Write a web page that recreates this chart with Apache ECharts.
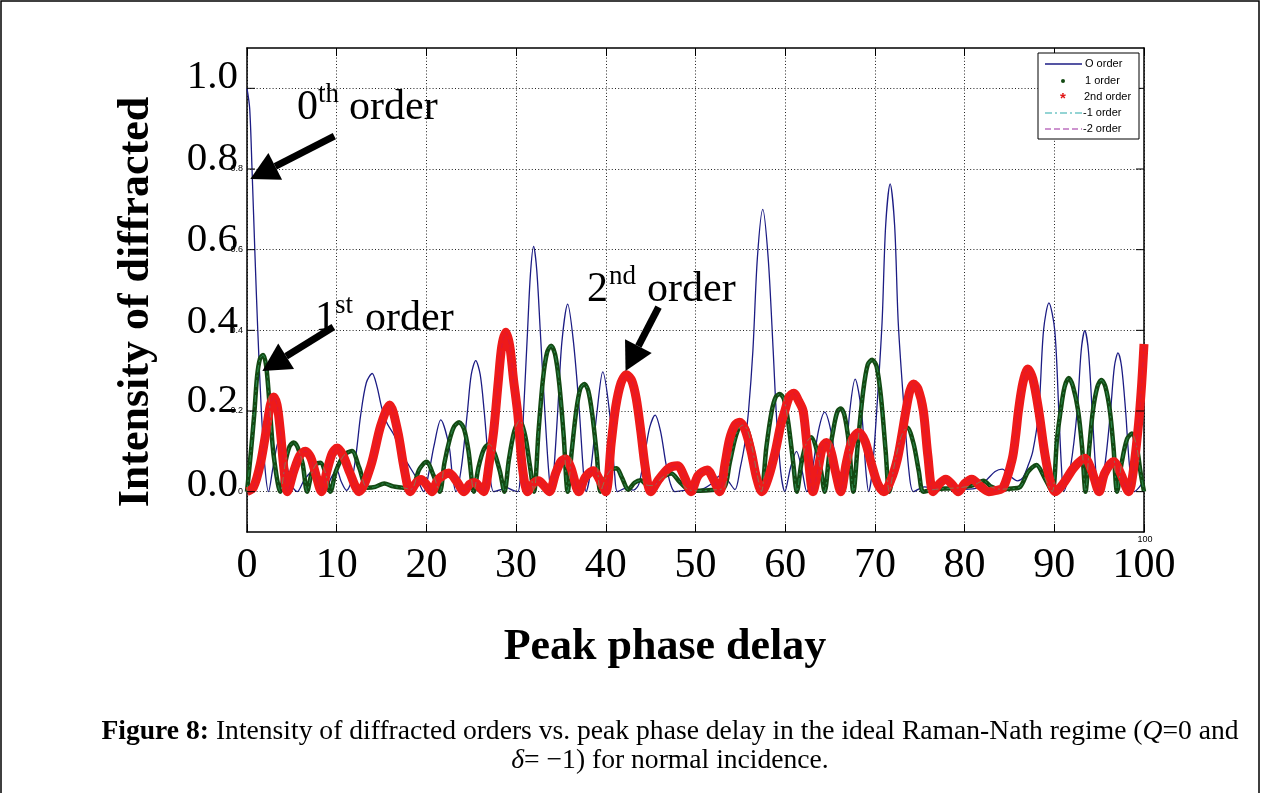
<!DOCTYPE html>
<html>
<head>
<meta charset="utf-8">
<script src="https://cdn.jsdelivr.net/npm/echarts@6/dist/echarts.min.js"></script>
<style>
  html, body { margin: 0; padding: 0; background: #fff; }
  #chart { width: 1261px; height: 793px; }
</style>
</head>
<body>
<div id="chart"></div>
<script>
// Intensity of the 0th order vs peak phase delay
const order0 = [
  [0,1.0],[0.3,0.95],[0.56,0.8],[0.9,0.58],[1.2,0.4],[1.6,0.2],[2.0,0.06],[2.4,0],[2.9,0.06],[3.6,0.13],[4.3,0.08],[5.0,0.015],[5.6,0],
  [6.4,0.03],[7.3,0.05],[8.2,0.02],[8.9,0.015],[9.4,0.035],[10.0,0.054],[10.5,0.025],[11.1,0.003],[11.7,0.03],[12.2,0.1],[12.66,0.188],
  [13.3,0.27],[13.96,0.293],[14.5,0.26],[15.0,0.21],[15.6,0.17],[16.4,0.14],[17.1,0.1],[17.9,0.07],[19.0,0.03],[19.7,0],
  [20.3,0.05],[20.85,0.114],[21.6,0.178],[22.52,0.114],[22.9,0.04],[23.3,0],[23.9,0.06],[24.58,0.2],[25.0,0.29],[25.5,0.325],
  [26.0,0.29],[26.44,0.2],[27.0,0.06],[27.5,0],[28.3,0.005],[28.9,0.01],[29.6,0.004],[30.2,0],[30.5,0.05],[30.84,0.2],[31.28,0.4],
  [31.6,0.54],[31.95,0.608],[32.3,0.55],[32.69,0.4],[33.2,0.2],[33.6,0.06],[33.9,0],[34.2,0.05],[34.64,0.2],[35.1,0.37],[35.75,0.465],
  [36.4,0.37],[37.05,0.2],[37.5,0.05],[37.8,0],[38.3,0.05],[39.03,0.2],[39.66,0.297],[40.4,0.2],[41.0,0.04],[41.3,0],[42.2,0.008],
  [43.1,0.004],[43.7,0.02],[44.4,0.1],[44.9,0.16],[45.5,0.19],[46.1,0.15],[46.7,0.07],[47.2,0.02],[47.7,0],[49.0,0.004],[50.5,0.005],
  [51.8,0.02],[52.4,0.035],[53.0,0.043],[53.7,0.025],[54.4,0.005],[55.0,0.06],[55.5,0.12],[55.9,0.197],[56.4,0.35],[56.9,0.58],
  [57.5,0.70],[58.1,0.58],[58.66,0.35],[59.0,0.197],[59.5,0.05],[59.96,0],[60.6,0.06],[61.26,0.1],[61.9,0.05],[62.4,0],[63.0,0.05],
  [63.7,0.15],[64.4,0.197],[65.1,0.15],[65.8,0.05],[66.3,0],[66.7,0.06],[67.2,0.2],[67.8,0.279],[68.5,0.2],[69.0,0.05],[69.3,0],
  [69.7,0.05],[70.2,0.2],[70.8,0.42],[71.2,0.66],[71.7,0.763],[72.2,0.66],[72.6,0.42],[73.2,0.22],[73.8,0.05],[74.3,0],[75.5,0.012],
  [77.0,0.008],[78.5,0.008],[80.0,0.006],[81.5,0.01],[82.5,0.03],[83.4,0.05],[84.2,0.056],[85.0,0.04],[85.9,0.027],[86.5,0.035],
  [87.0,0.06],[87.6,0.1],[88.27,0.2],[88.8,0.4],[89.4,0.468],[90.05,0.4],[90.5,0.2],[90.8,0.06],[91.05,0],[91.8,0.06],[92.55,0.2],
  [93.0,0.35],[93.4,0.399],[93.8,0.35],[94.22,0.2],[94.6,0.06],[94.9,0],[95.6,0.06],[96.27,0.2],[96.7,0.31],[97.1,0.344],[97.5,0.31],
  [97.95,0.2],[98.4,0.06],[98.9,0],[99.5,0.012],[100,0.03]
];

// Intensity of the 1st order
const order1 = [
  [0,0],[0.4,0.09],[0.8,0.19],[1.12,0.285],[1.45,0.33],[1.79,0.339],[2.15,0.31],[2.6,0.19],[2.97,0.09],[3.72,0],
  [4.3,0.075],[4.75,0.112],[5.2,0.122],[5.65,0.11],[6.2,0.07],[6.7,0],[7.2,0.045],[7.7,0.068],[8.19,0.072],[8.7,0.05],[9.3,0],
  [9.9,0.05],[10.8,0.09],[11.7,0.101],[12.5,0.06],[13.4,0.01],[14.3,0.012],[15.3,0.02],[16.3,0.013],[17.3,0.01],[18.3,0.006],
  [19.2,0.055],[20.0,0.074],[20.8,0.04],[21.5,0],[22.0,0.07],[22.6,0.13],[23.1,0.162],[23.65,0.172],[24.2,0.155],[24.7,0.1],[25.3,0],
  [25.8,0.06],[26.4,0.105],[27.0,0.118],[27.6,0.095],[28.2,0.05],[28.7,0],[29.2,0.08],[29.8,0.15],[30.4,0.177],[31.0,0.14],[31.5,0.07],
  [32.0,0],[32.5,0.15],[33.0,0.28],[33.45,0.345],[33.9,0.362],[34.35,0.34],[34.8,0.27],[35.3,0.14],[35.75,0],[36.2,0.1],[36.7,0.2],
  [37.15,0.255],[37.6,0.267],[38.05,0.25],[38.5,0.19],[39.0,0.09],[39.4,0],[40.0,0.035],[40.6,0.055],[41.2,0.058],[41.8,0.035],
  [42.5,0.005],[43.2,0.022],[43.9,0.028],[44.6,0.016],[45.3,0.015],[46.3,0.035],[47.3,0.045],[48.2,0.025],[49.2,0.005],[50.5,0.002],
  [51.8,0.004],[53.2,0.01],[53.8,0.07],[54.4,0.13],[54.85,0.158],[55.3,0.165],[55.75,0.155],[56.3,0.11],[56.9,0.04],[57.35,0],
  [57.9,0.11],[58.5,0.2],[58.95,0.235],[59.4,0.242],[59.85,0.23],[60.35,0.17],[60.9,0.07],[61.3,0],[61.8,0.07],[62.35,0.12],
  [62.9,0.135],[63.5,0.105],[64.0,0.05],[64.4,0],[64.9,0.09],[65.5,0.17],[65.85,0.2],[66.2,0.206],[66.6,0.19],[67.1,0.12],[67.6,0],
  [68.1,0.12],[68.7,0.25],[69.2,0.315],[69.7,0.327],[70.2,0.31],[70.7,0.23],[71.2,0.1],[71.6,0],[72.2,0.07],[72.9,0.135],[73.6,0.159],
  [74.3,0.12],[74.9,0.05],[75.4,0],[76.5,0.005],[78.0,0.008],[79.5,0.01],[81.0,0.016],[82.1,0.027],[83.0,0.012],[84.0,0.006],
  [85.3,0.008],[86.2,0.012],[87.1,0.05],[88.0,0.066],[88.9,0.035],[89.76,0],[90.3,0.13],[90.7,0.2],[91.15,0.26],[91.62,0.282],
  [92.1,0.26],[92.66,0.2],[93.1,0.11],[93.48,0],[93.9,0.11],[94.3,0.2],[94.8,0.26],[95.25,0.277],[95.7,0.26],[96.2,0.2],[96.6,0.11],
  [97.0,0],[97.5,0.07],[98.1,0.13],[98.65,0.144],[99.2,0.11],[99.6,0.05],[100,0]
];

// Intensity of the 2nd order
const order2 = [
  [0,0],[0.7,0.01],[1.5,0.07],[2.2,0.16],[2.6,0.215],[2.97,0.235],[3.35,0.215],[3.72,0.15],[4.1,0.06],[4.5,0],
  [5.2,0.05],[5.9,0.09],[6.5,0.1],[7.1,0.085],[7.7,0.04],[8.3,0],[8.9,0.05],[9.5,0.095],[10.05,0.108],[10.7,0.09],[11.5,0.045],[12.5,0],
  [13.8,0.064],[14.9,0.163],[15.9,0.215],[16.8,0.15],[17.5,0.06],[18.2,0],[18.8,0.02],[19.4,0.03],[20.0,0.018],[20.6,0],
  [21.3,0.03],[22.5,0.046],[23.4,0.025],[24.2,0],[24.8,0.018],[25.4,0.023],[25.9,0.012],[26.4,0],
  [27.0,0.07],[27.5,0.15],[28.0,0.27],[28.4,0.36],[28.86,0.395],[29.3,0.36],[29.7,0.28],[30.2,0.19],[30.7,0.06],[31.3,0],
  [31.9,0.02],[32.5,0.027],[33.1,0.015],[33.7,0],[34.4,0.045],[35.0,0.075],[35.5,0.081],[36.1,0.06],[37.0,0],
  [37.7,0.035],[38.6,0.052],[39.3,0.03],[40.0,0],[40.6,0.12],[41.1,0.21],[41.7,0.27],[42.3,0.29],[42.9,0.275],[43.4,0.23],
  [43.9,0.15],[44.4,0.06],[45.0,0],[45.9,0.03],[47.0,0.058],[48.0,0.064],[48.8,0.035],[49.5,0],[50.3,0.04],[51.3,0.054],[52.0,0.03],[52.7,0],
  [53.3,0.07],[53.8,0.13],[54.4,0.165],[54.9,0.172],[55.5,0.155],[56.2,0.1],[56.8,0.035],[57.4,0],
  [58.2,0.04],[58.9,0.1],[59.5,0.165],[59.96,0.2],[60.45,0.235],[60.95,0.244],[61.5,0.225],[62.0,0.2],[62.5,0.1],[63.1,0],
  [63.7,0.06],[64.15,0.11],[64.6,0.122],[65.1,0.1],[65.6,0.05],[66.2,0],[66.8,0.07],[67.5,0.13],[68.2,0.147],[68.9,0.125],[69.6,0.07],
  [70.3,0.02],[71.0,0],[71.8,0.03],[72.5,0.08],[73.0,0.14],[73.45,0.2],[73.9,0.25],[74.3,0.267],[74.8,0.255],[75.4,0.2],[75.9,0.09],[76.5,0],
  [77.2,0.02],[77.9,0.031],[78.6,0.018],[79.3,0],[80.0,0.02],[80.8,0.031],[81.7,0.015],[82.7,0],[83.5,0.003],[84.3,0.01],
  [85.3,0.08],[85.7,0.14],[86.0,0.2],[86.5,0.27],[87.05,0.304],[87.6,0.28],[88.27,0.2],[88.9,0.1],[89.5,0.03],[90.1,0],
  [91.0,0.02],[92.2,0.06],[93.4,0.083],[94.2,0.05],[95.0,0],[95.6,0.045],[96.6,0.075],[97.4,0.045],[98.3,0],
  [98.8,0.05],[99.4,0.17],[99.75,0.27],[100,0.366]
];

const seriesNames = ['O order', '1 order', '2nd order', '-1 order', '-2 order'];
const yGridValues = [0, 0.2, 0.4, 0.6, 0.8, 1.0];
const yBigLabels = ['0.0', '0.2', '0.4', '0.6', '0.8', '1.0'];
const ySmallLabels = ['0', '0.2', '0.4', '0.6', '0.8', ''];

// arrow annotations: tip in data units, tail offset in pixels
const annotations = [
  { tip: [0.37, 0.775], tail: [84, -43] },
  { tip: [1.71, 0.299], tail: [71, -44] },
  { tip: [42.2, 0.299], tail: [33, -64] }
];

const SERIF = '"Liberation Serif", "Times New Roman", serif';
const SANS = '"Liberation Sans", Arial, sans-serif';
const dotted = [1, 2.2];

const chart = echarts.init(document.getElementById('chart'), null, { renderer: 'canvas' });

function smallYLabel(v) {
  const k = Math.round(v * 10);
  if (k < 0 || k % 2 !== 0) return '';
  return ySmallLabels[k / 2] || '';
}

const option = {
  animation: false,
  backgroundColor: '#fff',
  grid: { left: 247, top: 48, width: 897, height: 484, containLabel: false },
  xAxis: [
    {
      type: 'value', min: 0, max: 100, interval: 10, position: 'bottom',
      axisLine: { show: true, onZero: false, lineStyle: { color: '#000', width: 1.5 } },
      axisTick: { show: true, inside: true, length: 8, lineStyle: { color: '#000', width: 1 } },
      axisLabel: {
        show: true, margin: 13, fontSize: 42, fontFamily: SERIF, color: '#000',
        showMinLabel: true, showMaxLabel: true
      },
      splitLine: { show: true, lineStyle: { color: '#222', type: dotted, width: 1 } }
    },
    {
      type: 'value', min: 0, max: 100, interval: 10, position: 'top',
      axisLine: { show: true, onZero: false, lineStyle: { color: '#000', width: 1.5 } },
      axisTick: { show: true, inside: true, length: 8, lineStyle: { color: '#000', width: 1 } },
      axisLabel: { show: false },
      splitLine: { show: false }
    }
  ],
  yAxis: [
    {
      type: 'value', min: -0.1, max: 1.1, interval: 0.1, position: 'left',
      axisLine: { show: true, onZero: false, lineStyle: { color: '#000', width: 1.5 } },
      axisTick: { show: false },
      axisLabel: { show: true, margin: 4, fontSize: 9, fontFamily: SANS, color: '#000', formatter: smallYLabel },
      splitLine: { show: false }
    },
    {
      type: 'value', min: -0.1, max: 1.1, interval: 0.1, position: 'right',
      axisLine: { show: true, onZero: false, lineStyle: { color: '#000', width: 1.5 } },
      axisTick: { show: false },
      axisLabel: { show: false },
      splitLine: { show: false }
    }
  ],
  series: [
    {
      name: 'grid', type: 'line', data: [], z: 1, silent: true,
      markLine: {
        silent: true, symbol: ['none', 'none'], animation: false,
        label: { show: false },
        lineStyle: { color: '#222', type: dotted, width: 1 },
        data: yGridValues.map(v => ({ yAxis: v }))
      }
    },
    {
      name: seriesNames[0], type: 'line', data: order0, z: 3, showSymbol: false, smooth: 0.3,
      lineStyle: { color: '#1c1c84', width: 1.3 }
    },
    {
      name: seriesNames[1], type: 'line', data: order1, z: 4, showSymbol: false, smooth: 0.3,
      lineStyle: { color: '#134a13', width: 4.5 }
    },
    {
      name: seriesNames[2], type: 'line', data: order2, z: 5, showSymbol: false, smooth: 0.3,
      lineStyle: { color: '#ee1a1a', width: 9 }
    },
    {
      name: seriesNames[3], type: 'line', data: order1, z: 6, showSymbol: false, smooth: 0.3,
      lineStyle: { color: '#3fbf7f', width: 1, type: [7, 3, 2, 3], opacity: 0.55 }
    },
    {
      name: seriesNames[4], type: 'line', data: order2, z: 6, showSymbol: false, smooth: 0.3,
      lineStyle: { color: '#c01070', width: 1, type: [5, 3], opacity: 0.35 }
    }
  ]
};
chart.setOption(option);

// overlay: big tick labels, ticks, annotations, legend, titles
const px = p => chart.convertToPixel({ gridIndex: 0 }, p);
const g = [];

// inward y ticks on both sides
yGridValues.forEach(v => {
  const l = px([0, v]), r = px([100, v]);
  g.push({ type: 'line', z: 20, shape: { x1: l[0], y1: l[1], x2: l[0] + 8, y2: l[1] }, style: { stroke: '#000', lineWidth: 1 } });
  g.push({ type: 'line', z: 20, shape: { x1: r[0] - 8, y1: r[1], x2: r[0], y2: r[1] }, style: { stroke: '#000', lineWidth: 1 } });
});

// large y tick labels (set slightly above their grid lines)
const bigLabelLift = [6, 10, 8.5, 9, 10, 11];
yGridValues.forEach((v, i) => {
  const p = px([0, v]);
  g.push({
    type: 'text', z: 30, x: 238, y: p[1] - bigLabelLift[i],
    style: { text: yBigLabels[i], font: '41px ' + SERIF, fill: '#000', align: 'right', verticalAlign: 'middle' }
  });
});

// small end label of the x axis
const pEnd = px([100, -0.1]);
g.push({ type: 'text', z: 30, x: pEnd[0] + 1, y: pEnd[1] + 8,
  style: { text: '100', font: '9px ' + SANS, fill: '#000', align: 'center', verticalAlign: 'middle' } });

// arrows
annotations.forEach(a => {
  const tip = px(a.tip);
  const tail = [tip[0] + a.tail[0], tip[1] + a.tail[1]];
  const dx = tail[0] - tip[0], dy = tail[1] - tip[1];
  const len = Math.sqrt(dx * dx + dy * dy);
  const ux = dx / len, uy = dy / len;
  const L = 28, W = 15;
  const bx = tip[0] + ux * L, by = tip[1] + uy * L;
  g.push({ type: 'line', z: 40, shape: { x1: bx, y1: by, x2: tail[0], y2: tail[1] },
    style: { stroke: '#000', lineWidth: 7 } });
  g.push({ type: 'polygon', z: 40,
    shape: { points: [[tip[0], tip[1]], [bx - uy * W, by + ux * W], [bx + uy * W, by - ux * W]] },
    style: { fill: '#000' } });
});

// order labels with superscripts (y = vertical centre of the digit)
function orderLabel(x, y, num, sup, supDx, orderDx) {
  g.push({ type: 'text', z: 40, x: x, y: y + 2, style: { text: num, font: '42px ' + SERIF, fill: '#000', verticalAlign: 'middle' } });
  g.push({ type: 'text', z: 40, x: x + supDx, y: y - 11, style: { text: sup, font: '27px ' + SERIF, fill: '#000', verticalAlign: 'middle' } });
  g.push({ type: 'text', z: 40, x: x + orderDx, y: y + 2, style: { text: 'order', font: '42px ' + SERIF, fill: '#000', verticalAlign: 'middle' } });
}
orderLabel(297, 106, '0', 'th', 21, 52);
orderLabel(315, 317, '1', 'st', 20, 50);
orderLabel(587, 288, '2', 'nd', 22, 60);

// legend box
const lg = { x: 1038, y: 53, w: 101, h: 86 };
g.push({ type: 'rect', z: 50, shape: { x: lg.x, y: lg.y, width: lg.w, height: lg.h },
  style: { fill: '#fff', stroke: '#000', lineWidth: 1 } });
const rowsY = [64, 81, 97, 113, 129];
const textX = [1085, 1085, 1084, 1083, 1083];
g.push({ type: 'line', z: 51, shape: { x1: 1045, y1: rowsY[0], x2: 1082, y2: rowsY[0] }, style: { stroke: '#1c1c84', lineWidth: 1.3 } });
g.push({ type: 'circle', z: 51, shape: { cx: 1063, cy: rowsY[1], r: 2 }, style: { fill: '#134a13' } });
g.push({ type: 'text', z: 51, x: 1063, y: rowsY[2] + 2, style: { text: '*', font: 'bold 15px ' + SANS, fill: '#e01515', align: 'center', verticalAlign: 'middle' } });
g.push({ type: 'line', z: 51, shape: { x1: 1045, y1: rowsY[3], x2: 1082, y2: rowsY[3] }, style: { stroke: '#2aaaaa', lineWidth: 1.2, lineDash: [7, 3, 2, 3] } });
g.push({ type: 'line', z: 51, shape: { x1: 1045, y1: rowsY[4], x2: 1082, y2: rowsY[4] }, style: { stroke: '#9b2aa0', lineWidth: 1.2, lineDash: [6, 3] } });
seriesNames.forEach((n, i) => {
  g.push({ type: 'text', z: 51, x: textX[i], y: rowsY[i], style: { text: n, font: '11px ' + SANS, fill: '#000', verticalAlign: 'middle' } });
});

// axis titles
g.push({ type: 'text', z: 30, x: 137, y: 302, rotation: Math.PI / 2,
  style: { text: 'Intensity of diffracted', font: 'bold 44px ' + SERIF, fill: '#000', align: 'center', verticalAlign: 'middle' } });
g.push({ type: 'text', z: 30, x: 665, y: 648,
  style: { text: 'Peak phase delay', font: 'bold 44px ' + SERIF, fill: '#000', align: 'center', verticalAlign: 'middle' } });

// caption
g.push({ type: 'text', z: 30, x: 670, y: 732,
  style: {
    text: '{b|Figure 8:}{n| Intensity of diffracted orders vs. peak phase delay in the ideal Raman-Nath regime (}{i|Q}{n|=0 and}',
    align: 'center', verticalAlign: 'middle',
    rich: {
      b: { font: 'bold 27.6px ' + SERIF, fill: '#000' },
      n: { font: '27.6px ' + SERIF, fill: '#000' },
      i: { font: 'italic 27.6px ' + SERIF, fill: '#000' }
    }
  } });
g.push({ type: 'text', z: 30, x: 670, y: 761,
  style: {
    text: '{i|δ}{n|= \u22121) for normal incidence.}',
    align: 'center', verticalAlign: 'middle',
    rich: {
      n: { font: '27.6px ' + SERIF, fill: '#000' },
      i: { font: 'italic 27.6px ' + SERIF, fill: '#000' }
    }
  } });

// page frame
g.push({ type: 'rect', z: 5, shape: { x: 1, y: 1, width: 1258, height: 800 }, style: { fill: 'none', stroke: '#000', lineWidth: 1.5 } });

chart.setOption({ graphic: { elements: g } });
</script>
</body>
</html>
